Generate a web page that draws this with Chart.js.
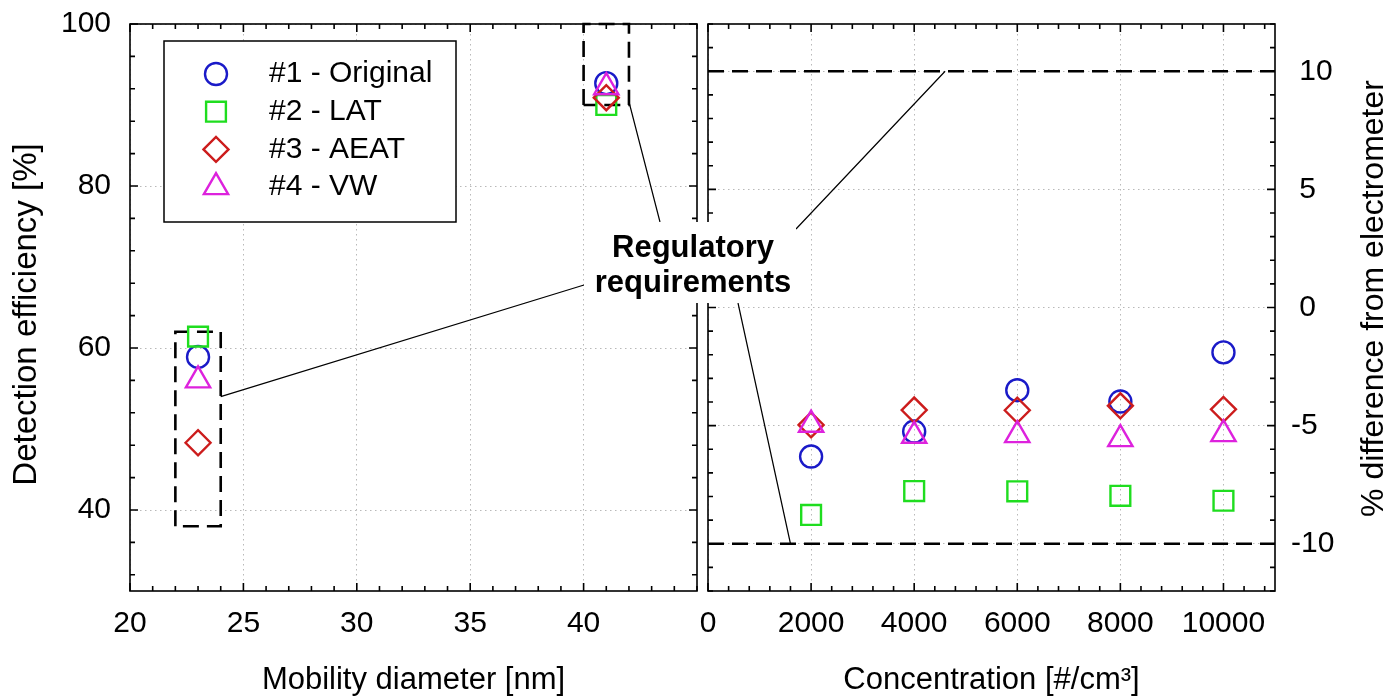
<!DOCTYPE html>
<html>
<head>
<meta charset="utf-8">
<title>Detection efficiency</title>
<script src="https://cdn.jsdelivr.net/npm/chart.js@4.4.0/dist/chart.umd.min.js"></script>
<style>
  html, body { margin:0; padding:0; background:#fff; }
  #wrap { position:relative; width:1393px; height:699px; }
  #wrap canvas { position:absolute; left:0; top:0; }
</style>
</head>
<body>
<div id="wrap">
  <canvas id="leftChart" width="1393" height="699"></canvas>
  <canvas id="rightChart" width="1393" height="699"></canvas>
</div>
<script>
'use strict';

//////// values
let seriesNames=['#1 - Original', '#2 - LAT', '#3 - AEAT', '#4 - VW'];

// left panel: detection efficiency [%] vs mobility diameter [nm]
let diameters=[23, 41];
let effOriginal=[58.9, 92.7];
let effLAT=[61.4, 90.0];
let effAEAT=[48.3, 90.9];
let effVW=[56.0, 92.2];

// right panel: % difference from electrometer vs concentration [#/cm3]
let concentrations=[2000, 4000, 6000, 8000, 10000];
let diffOriginal=[-6.31, -5.25, -3.5, -3.98, -1.9];
let diffLAT=[-8.78, -7.77, -7.78, -7.97, -8.18];
let diffAEAT=[-4.97, -4.34, -4.35, -4.16, -4.31];
let diffVW=[-4.96, -5.43, -5.4, -5.57, -5.36];

// regulatory requirements
let reqSmallX=[22, 24];
let reqSmallY=[38, 62];
let reqLargeX=[40, 42];
let reqLargeY=[90, 100];
let reqLimits=[-10, 10];

// tick labels
let diameterTicks=[20, 25, 30, 35, 40];
let efficiencyTicks=[40, 60, 80, 100];
let concentrationTicks=[0, 2000, 4000, 6000, 8000, 10000];
let differenceTicks=[-10, -5, 0, 5, 10];

//////// styles
let seriesColors=['#1a1ac8', '#1fdd1f', '#cc1c1c', '#dd22dd'];
let seriesShapes=['circle', 'rect', 'rectRot', 'triangle'];
let seriesSizes=[11, 14, 12.5, 14];
let gridColor='#b9b9b9';
let fontFamily='"Liberation Sans", Arial, Helvetica, sans-serif';

Chart.defaults.font.family=fontFamily;
Chart.defaults.color='#000';

let leftChart=null;

//Help functions
function toPoints(xs, ys){
  let pts=[];
  for(let i=0;i<xs.length;i++){
    pts.push({x:xs[i], y:ys[i]});
  }
  return pts;
}

function boxPoints(xr, yr){
  return [
    {x:xr[0], y:yr[0]}, {x:xr[0], y:yr[1]}, {x:xr[1], y:yr[1]},
    {x:xr[1], y:yr[0]}, {x:xr[0], y:yr[0]}
  ];
}

function seriesDataset(i, xs, ys){
  return {
    label: seriesNames[i],
    data: toPoints(xs, ys),
    pointStyle: seriesShapes[i],
    pointRadius: seriesSizes[i],
    pointBorderWidth: 2.4,
    borderColor: seriesColors[i],
    backgroundColor: 'rgba(0,0,0,0)',
    order: 4-i
  };
}

function dashedDataset(points){
  return {
    label: 'req',
    data: points,
    showLine: true,
    borderColor: '#000',
    borderWidth: 2.6,
    borderDash: [16, 8],
    pointRadius: 0,
    fill: false,
    tension: 0,
    clip: false,
    order: 10
  };
}

// fixed size for an axis box, and no extra room for label overhang
function fixSize(w, h){
  return function(scale){
    if(w) scale.width=w;
    if(h) scale.height=h;
    scale.paddingTop=0;
    scale.paddingBottom=0;
    scale.paddingLeft=0;
    scale.paddingRight=0;
  };
}

function axis(min, max, tickValues, extra){
  let ax={
    type: 'linear',
    min: min,
    max: max,
    afterBuildTicks: function(scale){
      scale.ticks=tickValues.map(function(v){ return {value:v}; });
    },
    grid: {color: gridColor, lineWidth: 1, drawTicks: false},
    border: {display: false, dash: [1.5, 3.5]},
    ticks: {
      autoSkip: false, maxRotation: 0, minRotation: 0,
      color: '#000', font: {size: 30},
      callback: function(v){ return String(v); }
    }
  };
  for(let k in extra){
    if(k==='ticks'){
      Object.assign(ax.ticks, extra.ticks);
    }else{
      ax[k]=extra[k];
    }
  }
  return ax;
}

function isMajor(scale, v){
  for(let i=0;i<scale.ticks.length;i++){
    if(Math.abs(scale.ticks[i].value-v)<1e-6) return true;
  }
  return false;
}

function rotatedTitle(ctx, text, x, y, size){
  ctx.save();
  ctx.translate(x, y);
  ctx.rotate(-Math.PI/2);
  ctx.fillStyle='#000';
  ctx.font=size+'px '+fontFamily;
  ctx.textAlign='center';
  ctx.textBaseline='middle';
  ctx.fillText(text, 0, 0);
  ctx.restore();
}

///////////// frame with inward ticks on all four sides
function framePlugin(minorX, minorY){
  return {
    id: 'frameTicks',
    afterDraw: function(chart){
      let ctx=chart.ctx;
      let area=chart.chartArea;
      let xScale=chart.scales.x;
      let yScale=chart.scales.y;
      ctx.save();
      ctx.strokeStyle='#000';
      ctx.lineWidth=1.6;
      ctx.beginPath();
      for(let v=xScale.min; v<=xScale.max+1e-6; v+=minorX){
        let px=xScale.getPixelForValue(v);
        let len=isMajor(xScale, v) ? 8 : 5;
        ctx.moveTo(px, area.bottom); ctx.lineTo(px, area.bottom-len);
        ctx.moveTo(px, area.top); ctx.lineTo(px, area.top+len);
      }
      for(let v=yScale.max; v>=yScale.min-1e-6; v-=minorY){
        let py=yScale.getPixelForValue(v);
        let len=isMajor(yScale, v) ? 8 : 5;
        ctx.moveTo(area.left, py); ctx.lineTo(area.left+len, py);
        ctx.moveTo(area.right, py); ctx.lineTo(area.right-len, py);
      }
      ctx.stroke();
      ctx.strokeRect(area.left, area.top, area.right-area.left, area.bottom-area.top);
      ctx.restore();
    }
  };
}

///////////// boxed legend inside the left panel + left axis title
let legendPlugin={
  id: 'boxLegend',
  afterDraw: function(chart){
    let ctx=chart.ctx;
    let area=chart.chartArea;
    ctx.save();
    ctx.fillStyle='#fff';
    ctx.fillRect(164, 41, 292, 181);
    ctx.strokeStyle='#000';
    ctx.lineWidth=1.5;
    ctx.strokeRect(164, 41, 292, 181);
    for(let i=0;i<seriesNames.length;i++){
      let y=74+i*37.7;
      ctx.strokeStyle=seriesColors[i];
      ctx.fillStyle='rgba(0,0,0,0)';
      ctx.lineWidth=2.4;
      Chart.helpers.drawPoint(ctx, {pointStyle: seriesShapes[i], rotation: 0, radius: seriesSizes[i], borderWidth: 2.4}, 216, y);
      ctx.fillStyle='#000';
      ctx.font='30px '+fontFamily;
      ctx.textAlign='left';
      ctx.textBaseline='middle';
      ctx.fillText(seriesNames[i], 269, y);
    }
    ctx.restore();
    rotatedTitle(ctx, 'Detection efficiency [%]', 27, (area.top+area.bottom)/2+7, 33);
  }
};

///////////// right axis title (reads bottom to top) and the callout
let rightTitlePlugin={
  id: 'rightTitle',
  afterDraw: function(chart){
    let area=chart.chartArea;
    rotatedTitle(chart.ctx, '% difference from electrometer', chart.scales.y.right-19, (area.top+area.bottom)/2-9, 32);
  }
};

let callout={
  text: ['Regulatory', 'requirements'],
  centerX: 693,
  baselines: [257, 292],
  box: [584, 222, 796, 303]
};

let calloutPlugin={
  id: 'callout',
  afterDraw: function(chart){
    let ctx=chart.ctx;
    let L=leftChart.scales;
    let R=chart.scales;
    let lines=[
      [L.x.getPixelForValue(reqSmallX[1]), L.y.getPixelForValue(54), 584, 285],
      [L.x.getPixelForValue(reqLargeX[1]), L.y.getPixelForValue(90.4), 660, 222],
      [R.x.getPixelForValue(4600), R.y.getPixelForValue(reqLimits[1]), 796, 229],
      [R.x.getPixelForValue(1600), R.y.getPixelForValue(reqLimits[0]), 738, 303]
    ];
    ctx.save();
    ctx.strokeStyle='#000';
    ctx.lineWidth=1.2;
    ctx.beginPath();
    for(let i=0;i<lines.length;i++){
      ctx.moveTo(lines[i][0], lines[i][1]);
      ctx.lineTo(lines[i][2], lines[i][3]);
    }
    ctx.stroke();
    let b=callout.box;
    ctx.fillStyle='#fff';
    ctx.fillRect(b[0], b[1], b[2]-b[0], b[3]-b[1]);
    ctx.fillStyle='#000';
    ctx.font='bold 31px '+fontFamily;
    ctx.textAlign='center';
    ctx.textBaseline='alphabetic';
    for(let i=0;i<callout.text.length;i++){
      ctx.fillText(callout.text[i], callout.centerX, callout.baselines[i]);
    }
    ctx.restore();
  }
};

//////////// Left chart
leftChart=new Chart(document.getElementById('leftChart').getContext('2d'), {
  type: 'scatter',
  data: {
    datasets: [
      seriesDataset(0, diameters, effOriginal),
      seriesDataset(1, diameters, effLAT),
      seriesDataset(2, diameters, effAEAT),
      seriesDataset(3, diameters, effVW),
      dashedDataset(boxPoints(reqSmallX, reqSmallY)),
      dashedDataset(boxPoints(reqLargeX, reqLargeY))
    ]
  },
  options: {
    responsive: false,
    animation: false,
    devicePixelRatio: 1,
    events: [],
    layout: {padding: {left: 0, top: 24, right: 696, bottom: 0}},
    plugins: {legend: {display: false}, tooltip: {enabled: false}},
    scales: {
      x: axis(20, 45, diameterTicks, {
        position: 'bottom',
        afterFit: fixSize(0, 108),
        ticks: {padding: 15},
        title: {display: true, text: 'Mobility diameter [nm]', color: '#000', font: {size: 31}, padding: {top: 0, bottom: 0}}
      }),
      y: axis(30, 100, efficiencyTicks, {
        position: 'left',
        afterFit: fixSize(130, 0),
        ticks: {padding: 19}
      })
    }
  },
  plugins: [framePlugin(1, 4), legendPlugin]
});

//////////// Right chart
let rightChart=new Chart(document.getElementById('rightChart').getContext('2d'), {
  type: 'scatter',
  data: {
    datasets: [
      seriesDataset(0, concentrations, diffOriginal),
      seriesDataset(1, concentrations, diffLAT),
      seriesDataset(2, concentrations, diffAEAT),
      seriesDataset(3, concentrations, diffVW),
      dashedDataset([{x:0, y:reqLimits[1]}, {x:11000, y:reqLimits[1]}]),
      dashedDataset([{x:0, y:reqLimits[0]}, {x:11000, y:reqLimits[0]}])
    ]
  },
  options: {
    responsive: false,
    animation: false,
    devicePixelRatio: 1,
    events: [],
    layout: {padding: {left: 708, top: 24, right: 0, bottom: 0}},
    plugins: {legend: {display: false}, tooltip: {enabled: false}},
    scales: {
      x: axis(0, 11000, concentrationTicks, {
        position: 'bottom',
        afterFit: fixSize(0, 108),
        ticks: {padding: 15},
        title: {display: true, text: 'Concentration [#/cm\u00b3]', color: '#000', font: {size: 31}, padding: {top: 0, bottom: 0}}
      }),
      y: axis(-12, 12, differenceTicks, {
        position: 'right',
        afterFit: fixSize(118, 0),
        ticks: {
          padding: 16,
          callback: function(v){ return v<0 ? String(v) : ' '+v; }
        }
      })
    }
  },
  plugins: [framePlugin(400, 1), rightTitlePlugin, calloutPlugin]
});
console.log(leftChart.chartArea, rightChart.chartArea);
</script>
</body>
</html>
